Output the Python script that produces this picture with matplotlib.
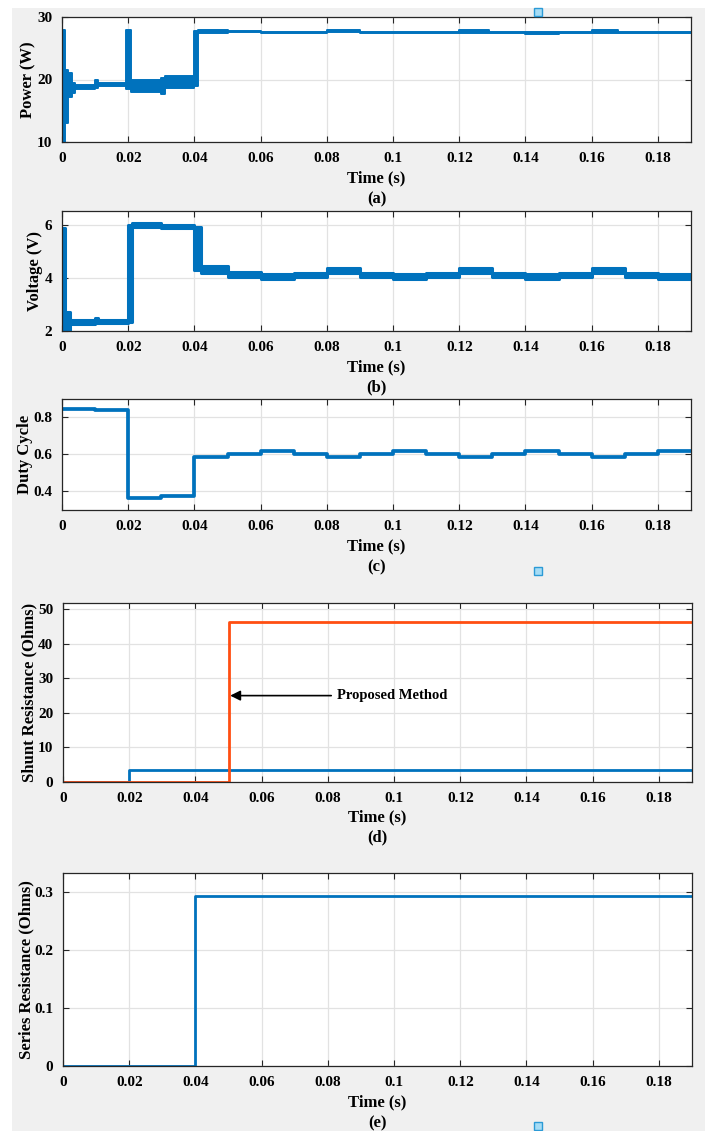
import matplotlib
matplotlib.use("Agg")
import matplotlib.pyplot as plt
from matplotlib.patches import Rectangle
from matplotlib.ticker import FuncFormatter, FixedLocator

plt.rcParams['font.family'] = ['Liberation Serif', 'DejaVu Serif']
plt.rcParams['font.weight'] = 'bold'

# ---------------- data ----------------
T_END = 0.19

# Output power band (step segments): start time, lower and upper envelope (W)
power_t = [0.0, 0.0008, 0.0018, 0.0030, 0.0040, 0.0100, 0.0110, 0.0194, 0.0207,
           0.0300, 0.0310, 0.0400, 0.0410, 0.0470, 0.0500, 0.0600, 0.0700, 0.0800,
           0.0900, 0.1200, 0.1290, 0.1400, 0.1500, 0.1600, 0.1680]
power_lo = [10.0, 13.0, 17.2, 17.8, 18.5, 18.7, 19.0, 18.5, 18.0,
            17.7, 18.6, 19.0, 27.4, 27.5, 27.55, 27.4, 27.5, 27.55,
            27.5, 27.5, 27.5, 27.35, 27.5, 27.5, 27.5]
power_hi = [28.0, 21.5, 21.0, 19.5, 19.1, 19.9, 19.4, 28.0, 20.0,
            20.3, 20.6, 27.8, 28.0, 27.9, 27.7, 27.6, 27.65, 27.85,
            27.65, 27.85, 27.65, 27.55, 27.65, 27.85, 27.65]

# Terminal voltage band (V)
volt_t = [0.0, 0.0008, 0.0025, 0.0100, 0.0110, 0.0198, 0.0210, 0.0300, 0.0400,
          0.0420, 0.0500, 0.0600, 0.0700, 0.0800, 0.0900, 0.1000, 0.1100, 0.1200,
          0.1300, 0.1400, 0.1500, 0.1600, 0.1700, 0.1800]
volt_lo = [2.0, 2.05, 2.27, 2.3, 2.3, 2.35, 5.95, 5.9, 4.3,
           4.2, 4.05, 3.98, 4.05, 4.2, 4.05, 3.98, 4.05, 4.2,
           4.05, 3.98, 4.05, 4.2, 4.05, 3.98]
volt_hi = [5.9, 2.7, 2.42, 2.48, 2.4, 6.0, 6.1, 6.0, 5.95,
           4.45, 4.22, 4.15, 4.2, 4.38, 4.2, 4.15, 4.2, 4.38,
           4.2, 4.15, 4.2, 4.38, 4.2, 4.15]

# Duty cycle
duty_t = [0.0, 0.01, 0.02, 0.03, 0.04, 0.05, 0.06, 0.07, 0.08, 0.09,
          0.10, 0.11, 0.12, 0.13, 0.14, 0.15, 0.16, 0.17, 0.18]
duty_v = [0.848, 0.839, 0.365, 0.375, 0.588, 0.600, 0.618, 0.600, 0.588, 0.600,
          0.618, 0.600, 0.588, 0.600, 0.618, 0.600, 0.588, 0.600, 0.618]

# Shunt resistance estimates (Ohms)
shunt_blue_t = [0.0, 0.02]
shunt_blue_v = [0.0, 3.4]
shunt_prop_t = [0.0, 0.05]
shunt_prop_v = [0.0, 46.3]

# Series resistance estimate (Ohms)
series_t = [0.0, 0.04]
series_v = [0.0, 0.293]

x_ticks = [0, 0.02, 0.04, 0.06, 0.08, 0.10, 0.12, 0.14, 0.16, 0.18]

# ---------------- style ----------------
W, H = 705, 1131
BLUE = '#0072BD'
ORANGE = '#FF4E12'
GRID = '#e2e2e2'
EDGE = '#262626'

fig = plt.figure(figsize=(W / 100, H / 100), dpi=100)
fig.patch.set_facecolor('white')
fig.patches.append(Rectangle((12 / W, 0), 1 - 12 / W, 1 - 8 / H,
                             transform=fig.transFigure, facecolor='#f0f0f0',
                             edgecolor='none', zorder=-10))
for (sx, sy) in [(534, 8), (534, 567), (534, 1122)]:
    fig.patches.append(Rectangle((sx / W, 1 - (sy + 8) / H), 8 / W, 8 / H,
                                 transform=fig.transFigure, facecolor='#a6dcf5',
                                 edgecolor='#2b9ad6', lw=1.0, zorder=5))


def box(x0, y0, x1, y1):
    return [x0 / W, 1 - y1 / H, (x1 - x0) / W, (y1 - y0) / H]


def ext(t, *vals):
    out = [list(t) + [T_END]]
    for v in vals:
        out.append(list(v) + [v[-1]])
    return out


def style(ax, ylim, yticks, ylabel, ylab_x, xlab_y, letter, letter_y, px):
    x0, y0, x1, y1 = px
    ax.set_facecolor('white')
    ax.set_xlim(0, T_END)
    ax.set_ylim(*ylim)
    ax.xaxis.set_major_locator(FixedLocator(x_ticks))
    ax.xaxis.set_major_formatter(FuncFormatter(lambda v, p: f"{round(v, 2):g}"))
    ax.yaxis.set_major_locator(FixedLocator(yticks))
    ax.yaxis.set_major_formatter(FuncFormatter(lambda v, p: f"{round(v, 2):g}"))
    ax.grid(True, color=GRID, lw=0.9)
    ax.set_axisbelow(True)
    for s in ax.spines.values():
        s.set_color(EDGE)
        s.set_linewidth(0.9)
    ax.tick_params(direction='in', length=4.5, width=0.8, color=EDGE,
                   top=True, right=True, labelsize=11, pad=7)
    for lab in ax.get_xticklabels() + ax.get_yticklabels():
        lab.set_fontweight('bold')
    ax.set_ylabel(ylabel, fontsize=12, fontweight='bold')
    ax.yaxis.label.set_va('center')
    ax.yaxis.set_label_coords((ylab_x - x0) / (x1 - x0), 0.5)
    ax.set_xlabel('Time (s)', fontsize=12, fontweight='bold')
    ax.xaxis.label.set_va('center')
    ax.xaxis.set_label_coords(0.5, -(xlab_y - y1) / (y1 - y0))
    fig.text((x0 + x1) / 2 / W, 1 - letter_y / H, letter,
             ha='center', va='center', fontsize=12, fontweight='bold')


# (a) power
pa = (62, 17, 691, 142)
ax = fig.add_axes(box(*pa))
t, lo, hi = ext(power_t, power_lo, power_hi)
ax.fill_between(t, lo, hi, step='post', facecolor=BLUE, edgecolor=BLUE, lw=1.4)
style(ax, (10, 30), [10, 20, 30], 'Power (W)', 28, 178, '(a)', 199, pa)

# (b) voltage
pb = (62, 211, 691, 331)
ax = fig.add_axes(box(*pb))
t, lo, hi = ext(volt_t, volt_lo, volt_hi)
ax.fill_between(t, lo, hi, step='post', facecolor=BLUE, edgecolor=BLUE, lw=2.2)
style(ax, (2, 6.54), [2, 4, 6], 'Voltage (V)', 35, 367, '(b)', 387, pb)

# (c) duty cycle
pc = (62, 399, 691, 510)
ax = fig.add_axes(box(*pc))
t, d = ext(duty_t, duty_v)
ax.step(t, d, where='post', color=BLUE, lw=2.7)
style(ax, (0.3, 0.9), [0.4, 0.6, 0.8], 'Duty Cycle', 25, 546, '(c)', 567, pc)

# (d) shunt resistance
pd_ = (63, 603, 692, 782)
ax = fig.add_axes(box(*pd_))
t, v = ext(shunt_blue_t, shunt_blue_v)
ax.step(t, v, where='post', color=BLUE, lw=2.0)
t, v = ext(shunt_prop_t, shunt_prop_v)
ax.step(t, v, where='post', color=ORANGE, lw=2.0)
ax.annotate('Proposed Method', xy=(0.0505, 25), xytext=(0.0827, 25),
            fontsize=10.5, fontweight='bold', ha='left', va='center',
            arrowprops=dict(arrowstyle='-|>', color='black', lw=1.2,
                            mutation_scale=15, shrinkA=2, shrinkB=0))
style(ax, (0, 51.8), [0, 10, 20, 30, 40, 50], 'Shunt Resistance (Ohms)', 29, 817, '(d)', 837, pd_)

# (e) series resistance
pe = (63, 873, 692, 1066)
ax = fig.add_axes(box(*pe))
t, v = ext(series_t, series_v)
ax.step(t, v, where='post', color=BLUE, lw=2.0)
style(ax, (0, 0.333), [0, 0.1, 0.2, 0.3], 'Series Resistance (Ohms)', 26, 1102, '(e)', 1123, pe)

fig.savefig('out.png', dpi=100, facecolor=fig.get_facecolor())
